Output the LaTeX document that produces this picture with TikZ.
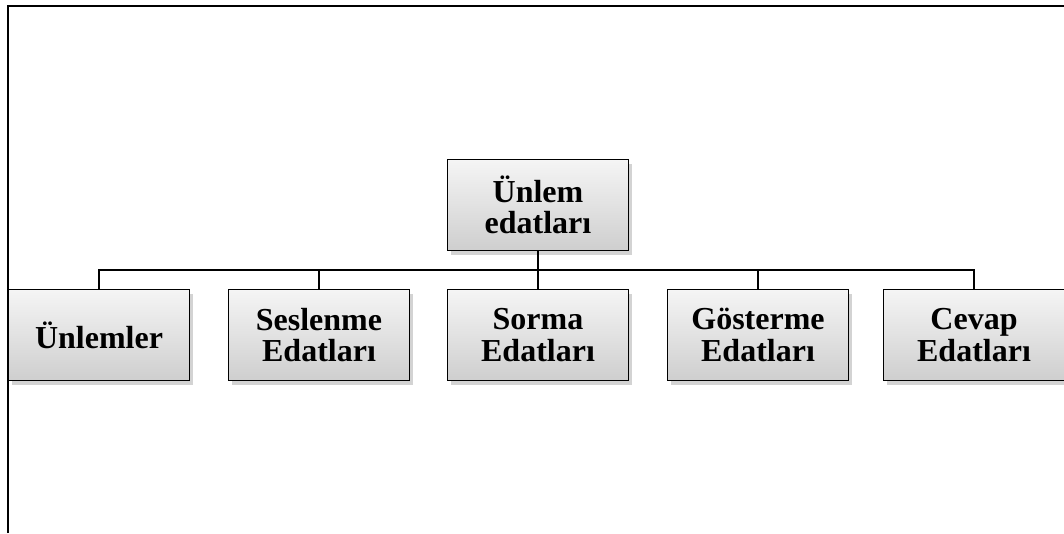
\documentclass[tikz,border=0pt]{standalone}
\usepackage{fontspec}
\setmainfont{Liberation Serif}
\usetikzlibrary{shadows}
\begin{document}
\begin{tikzpicture}[x=1pt,y=-1pt,
  box/.style={draw=black, line width=1.6pt, top color=gray!8, bottom color=gray!38,
    minimum width=181pt, minimum height=91pt, align=center, inner sep=0pt,
    font=\fontsize{32}{31.5}\selectfont\bfseries,
    drop shadow={shadow xshift=3pt, shadow yshift=-4pt, opacity=0.35, fill=gray}},
  conn/.style={line width=1.6pt},
  frame/.style={line width=2pt}]
\useasboundingbox (0,0) rectangle (1064,533);
\draw[frame] (8,533) -- (8,6) -- (1064,6);
\node[box] (root) at (538,205) {Ünlem\\edatları};
\node[box] (c1) at (99,335) {Ünlemler};
\node[box] (c2) at (319,335) {Seslenme\\Edatları};
\node[box] (c3) at (538,335) {Sorma\\Edatları};
\node[box] (c4) at (758,335) {Gösterme\\Edatları};
\node[box] (c5) at (974,335) {Cevap\\Edatları};
\coordinate (bus) at (538,270);
\draw[conn] (root.south) -- (bus);
\foreach \c in {c1,c2,c3,c4,c5}{
  \draw[conn] (bus) -| (\c.north);
}
\end{tikzpicture}
\end{document}
